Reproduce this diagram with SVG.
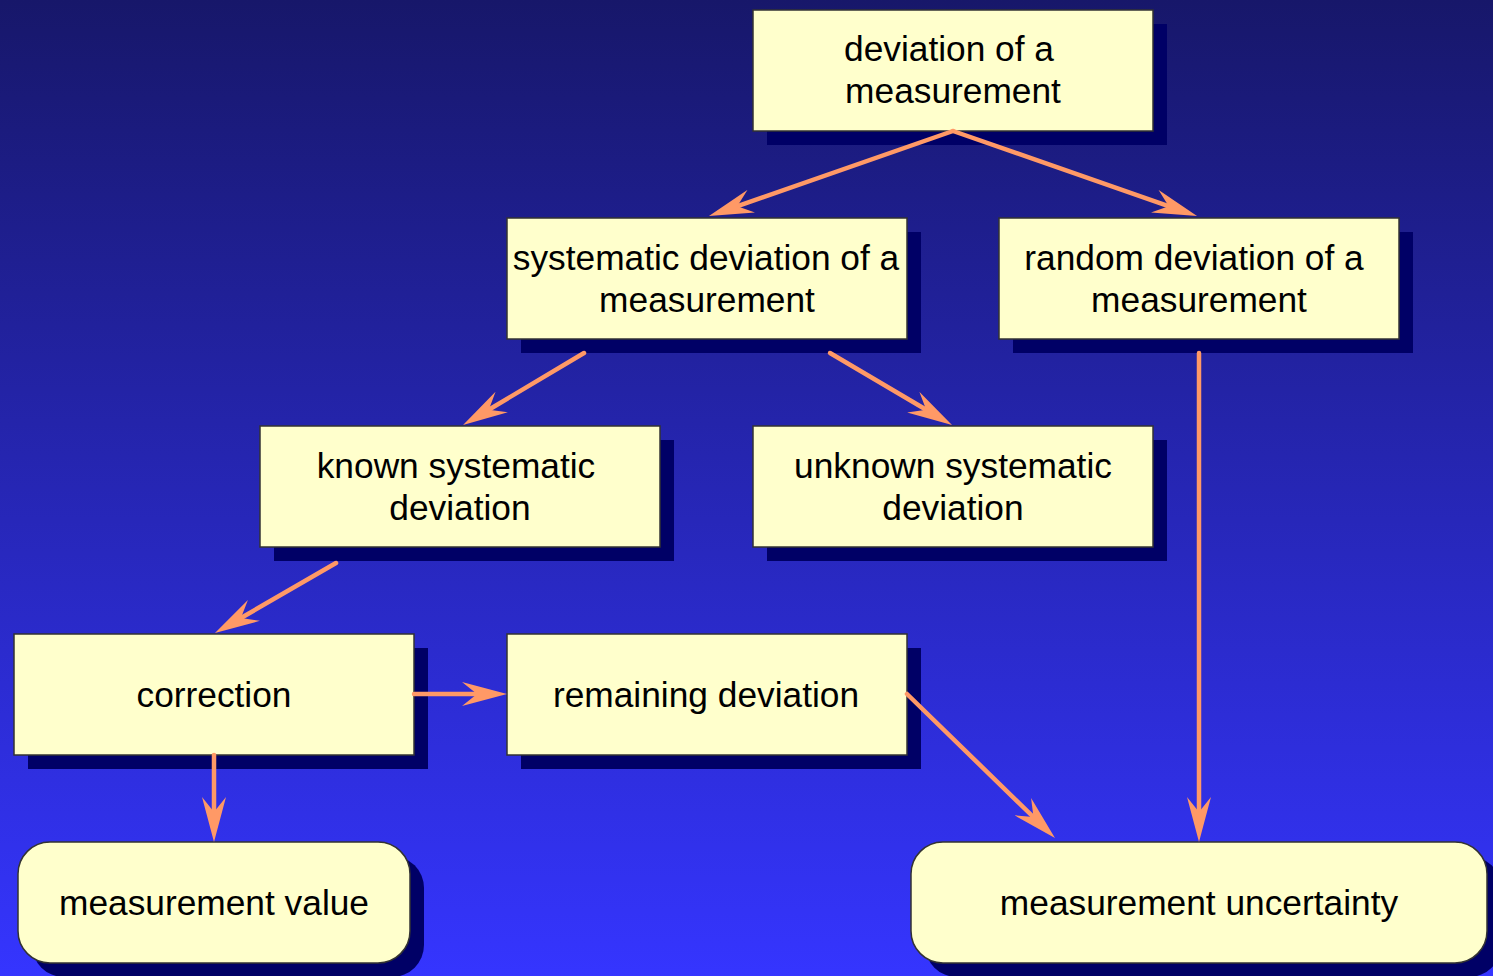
<svg xmlns="http://www.w3.org/2000/svg" width="1493" height="976" viewBox="0 0 1493 976">
<defs>
<linearGradient id="bg" x1="0" y1="0" x2="0" y2="1">
<stop offset="0" stop-color="#17176a"/>
<stop offset="1" stop-color="#3535ff"/>
</linearGradient>
<marker id="ah" viewBox="0 0 45 24" markerUnits="userSpaceOnUse" markerWidth="45" markerHeight="24" refX="17" refY="12" orient="auto">
<path d="M0,0 L45,12 L0,24 L15,12 Z" fill="#ff9966"/>
</marker>
<style>
.box{fill:#ffffcc;stroke:#333333;stroke-width:1.5}
.sh{fill:#000066}
.t{font-family:"Liberation Sans",Arial,sans-serif;font-size:35.3px;fill:#000000;text-anchor:middle}
.c{stroke:#ff9966;stroke-width:4.5;fill:none;stroke-linecap:round;marker-end:url(#ah)}
</style>
</defs>
<rect x="0" y="0" width="1493" height="976" fill="url(#bg)"/>
<g id="n1"><rect class="sh" x="767" y="24" width="400" height="121"/><rect class="box" x="753" y="10" width="400" height="121"/><text class="t" x="949" y="61">deviation of a</text><text class="t" x="953" y="103">measurement</text></g>
<g id="n2"><rect class="sh" x="521" y="232" width="400" height="121"/><rect class="box" x="507" y="218" width="400" height="121"/><text class="t" x="706" y="270">systematic deviation of a</text><text class="t" x="707" y="312">measurement</text></g>
<g id="n3"><rect class="sh" x="1013" y="232" width="400" height="121"/><rect class="box" x="999" y="218" width="400" height="121"/><text class="t" x="1194" y="270">random deviation of a</text><text class="t" x="1199" y="312">measurement</text></g>
<g id="n4"><rect class="sh" x="274" y="440" width="400" height="121"/><rect class="box" x="260" y="426" width="400" height="121"/><text class="t" x="456" y="478">known systematic</text><text class="t" x="460" y="520">deviation</text></g>
<g id="n5"><rect class="sh" x="767" y="440" width="400" height="121"/><rect class="box" x="753" y="426" width="400" height="121"/><text class="t" x="953" y="478">unknown systematic</text><text class="t" x="953" y="520">deviation</text></g>
<g id="n6"><rect class="sh" x="28" y="648" width="400" height="121"/><rect class="box" x="14" y="634" width="400" height="121"/><text class="t" x="214" y="707">correction</text></g>
<g id="n7"><rect class="sh" x="521" y="648" width="400" height="121"/><rect class="box" x="507" y="634" width="400" height="121"/><text class="t" x="706" y="707">remaining deviation</text></g>
<g id="n8"><rect class="sh" x="32" y="856" width="392" height="121" rx="32" ry="32"/><rect class="box" x="18" y="842" width="392" height="121" rx="32" ry="32"/><text class="t" x="214" y="915">measurement value</text></g>
<g id="n9"><rect class="sh" x="925" y="856" width="576" height="121" rx="32" ry="32"/><rect class="box" x="911" y="842" width="576" height="121" rx="32" ry="32"/><text class="t" x="1199" y="915">measurement uncertainty</text></g>
<g id="connectors">
<line class="c" x1="953" y1="131" x2="735.4" y2="206.8"/>
<line class="c" x1="953" y1="131" x2="1170.6" y2="206.8"/>
<line class="c" x1="584" y1="353" x2="487.1" y2="410.7"/>
<line class="c" x1="830" y1="353" x2="927.9" y2="410.8"/>
<line class="c" x1="336" y1="563" x2="239.2" y2="619"/>
<line class="c" x1="414" y1="694" x2="479" y2="694"/>
<line class="c" x1="214" y1="755" x2="214" y2="814"/>
<line class="c" x1="907" y1="694" x2="1034.9" y2="818.5"/>
<line class="c" x1="1199" y1="353" x2="1199" y2="814"/>
</g>
</svg>
